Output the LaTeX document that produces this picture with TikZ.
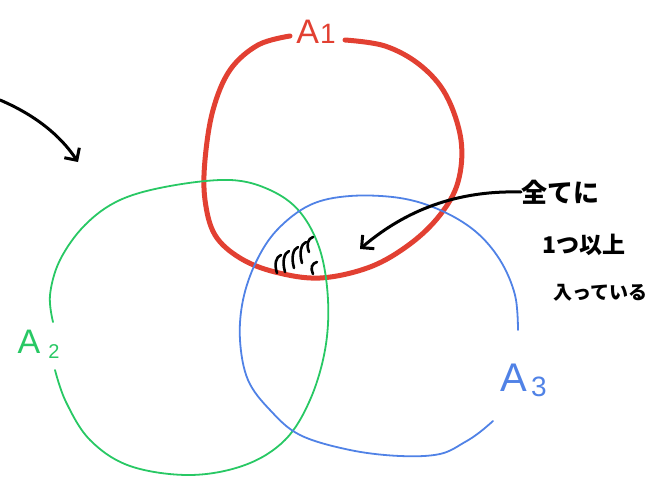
\documentclass[tikz,border=0pt]{standalone}
\usepackage{fontspec}
\setmainfont{Liberation Sans}
\newfontfamily\jpfont{Noto Sans CJK JP}
\usetikzlibrary{arrows.meta}
\definecolor{redc}{RGB}{226,64,50}
\definecolor{greenc}{RGB}{40,200,100}
\definecolor{bluec}{RGB}{80,130,230}
\tikzset{
  ring/.style={line cap=round, line join=round},
  lbl/.style={inner sep=0pt, font=\fontsize{34}{34}\selectfont},
  jp/.style={inner sep=0pt, anchor=west, font=\jpfont\bfseries},
  pen/.style={black, line width=3pt, line cap=round},
  tip/.style={-{Straight Barb[length=9pt,width=18pt,line width=3pt]}}
}
\begin{document}
\begin{tikzpicture}[x=1pt,y=-1pt]
\useasboundingbox (0,0) rectangle (659,485);
% red A1
\draw[ring, redc, line width=5pt] plot[smooth, tension=0.6] coordinates {
 (345,40) (385,46) (420,65) (446,95) (461,140) (458,182) (440,215) (410,244)
 (370,267) (320,278) (275,272) (240,258) (215,235) (205,200) (205,160)
 (213,110) (230,70) (258,45) (290,36)};
\node[lbl, text=redc] (a1) at (316,32) {A\kern1pt\fontsize{28}{28}\selectfont 1};
% green A2
\draw[ring, greenc, line width=1.8pt] plot[smooth, tension=0.6] coordinates {
 (53,322) (50,295) (60,260) (85,225) (120,200) (170,186) (230,180) (270,190)
 (300,212) (320,250) (328,300) (325,350) (310,400) (285,440) (245,465)
 (190,475) (130,466) (90,440) (66,402) (55,370)};
\node[lbl, text=greenc] (a2) at (29,342) {A};
\node[inner sep=0pt, text=greenc, font=\fontsize{20}{20}\selectfont] (a2s) at (54,352) {2};
% blue A3
\draw[ring, bluec, line width=1.8pt] plot[smooth, tension=0.6] coordinates {
 (518,330) (515,295) (500,260) (475,231) (440,210) (400,198) (350,196)
 (310,205) (277,230) (256,262) (243,300) (240,340) (248,380) (270,410)
 (300,435) (350,450) (400,456) (440,454) (465,442) (480,432) (493,421)};
\node[lbl, text=bluec, font=\fontsize{40}{40}\selectfont] (a3) at (514,378) {A};
\node[inner sep=0pt, text=bluec, font=\fontsize{28}{28}\selectfont] (a3s) at (539,387) {3};
% hatching
\foreach \x/\y/\h in {277/273/18, 285/272/21, 294/268/21, 302/263/21, 309/252/15, 313/274/12}{
  \draw[black, line width=2.6pt, line cap=round] (\x,\y) .. controls (\x-3,\y-0.5*\h) and (\x-1,\y-0.9*\h) .. (\x+4,\y-\h);
}
% texts
\node[jp, font=\jpfont\bfseries\fontsize{26}{26}\selectfont] (t1) at (521,192) {全てに};
\node[jp, font=\jpfont\bfseries\fontsize{23}{23}\selectfont] (t2) at (542,245) {1つ以上};
\node[jp, font=\jpfont\bfseries\fontsize{19}{19}\selectfont] (t3) at (553,293) {入っている};
% arrows
\coordinate (p1) at (360,249);
\draw[pen, tip] (t1.west) .. controls (450,190) and (400,215) .. (p1);
\coordinate (s0) at (0,100);
\coordinate (s1) at (78,162);
\draw[pen, tip] (s0) .. controls (35,115) and (60,135) .. (s1);
\end{tikzpicture}
\end{document}
